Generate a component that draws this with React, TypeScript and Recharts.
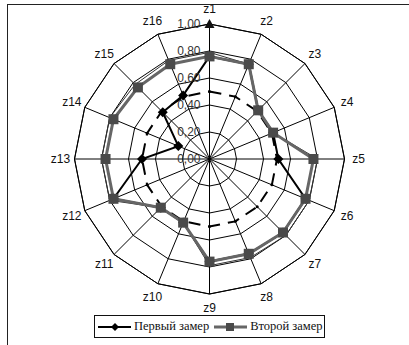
import {
  RadarChart,
  Radar,
  PolarGrid,
  PolarAngleAxis,
  PolarRadiusAxis,
} from 'recharts'

const axes = ['z1', 'z2', 'z3', 'z4', 'z5', 'z6', 'z7', 'z8', 'z9', 'z10', 'z11', 'z12', 'z13', 'z14', 'z15', 'z16']
const first = [0.76, 0.76, 0.51, 0.51, 0.51, 0.77, 0.77, 0.76, 0.76, 0.51, 0.51, 0.77, 0.5, 0.25, 0.49, 0.51]
const second = [0.76, 0.76, 0.51, 0.51, 0.77, 0.77, 0.77, 0.76, 0.76, 0.51, 0.51, 0.77, 0.77, 0.77, 0.75, 0.76]
// thin companion line drawn just outside the second series
const edge = [0.79, 0.76, 0.51, 0.51, 0.8, 0.8, 0.8, 0.79, 0.79, 0.51, 0.51, 0.8, 0.8, 0.8, 0.78, 0.79]
const level = [0.5, 0.5, 0.5, 0.5, 0.5, 0.5, 0.5, 0.5, 0.5, 0.5, 0.5, 0.5, 0.5, 0.5, 0.5, 0.5]
const ticks = [0, 0.2, 0.4, 0.6, 0.8, 1]

const data = axes.map((name, i) => ({
  name,
  first: first[i],
  second: second[i],
  edge: edge[i],
  level: level[i],
}))

const SANS = '"Liberation Sans", Arial, sans-serif'
const SERIF = '"Liberation Serif", "DejaVu Serif", serif'
const GRAY = '#666'
const SQUARE = '#4a4a4a'

const fmt = (v: number) => v.toFixed(2).replace('.', ',')

// eslint-disable-next-line @typescript-eslint/no-explicit-any
function RadiusTick({ x, y, payload }: any) {
  return (
    <g>
      {payload.value === 1 && (
        <polygon points={`${x - 5},${y + 4} ${x + 5},${y + 4} ${x},${y - 5}`} fill="#111" />
      )}
      <text
        x={x - 9}
        y={y}
        textAnchor="end"
        dominantBaseline="central"
        fontSize={12}
        fontFamily={SANS}
        fill="#333"
      >
        {fmt(payload.value)}
      </text>
    </g>
  )
}

// eslint-disable-next-line @typescript-eslint/no-explicit-any
function AngleTick({ x, y, payload }: any) {
  const shift = payload.value === 'z1' ? -1 : 0
  return (
    <text
      x={x}
      y={y + shift}
      textAnchor="middle"
      dominantBaseline="central"
      fontSize={12}
      fontFamily={SANS}
      fill="#111"
    >
      {payload.value}
    </text>
  )
}

// eslint-disable-next-line @typescript-eslint/no-explicit-any
const Diamond = ({ cx, cy, index }: any) => (
  <polygon
    key={`d${index}`}
    points={`${cx},${cy - 5} ${cx + 5},${cy} ${cx},${cy + 5} ${cx - 5},${cy}`}
    fill="#000"
  />
)

// eslint-disable-next-line @typescript-eslint/no-explicit-any
const Square = ({ cx, cy, index }: any) => (
  <rect key={`s${index}`} x={cx - 5} y={cy - 5} width={10} height={10} fill={SQUARE} />
)

// eslint-disable-next-line @typescript-eslint/no-explicit-any
const Dot = ({ cx, cy, index }: any) => (
  <circle key={`o${index}`} cx={cx} cy={cy} r={1.5} fill="#000" />
)

function Legend() {
  return (
    <div
      style={{
        position: 'absolute',
        left: 94,
        top: 315,
        width: 231,
        height: 23,
        border: '1px solid #111',
        display: 'flex',
        alignItems: 'center',
        fontFamily: SERIF,
        fontSize: 12.5,
        color: '#111',
        boxSizing: 'border-box',
      }}
    >
      <svg width={36} height={12} style={{ marginLeft: 2 }}>
        <line x1={1} y1={6} x2={34} y2={6} stroke="#000" strokeWidth={2} />
        <polygon points="18,2 22,6 18,10 14,6" fill="#000" />
      </svg>
      <span style={{ marginLeft: 1 }}>Первый замер</span>
      <svg width={36} height={12} style={{ marginLeft: 4 }}>
        <line x1={1} y1={6} x2={34} y2={6} stroke={GRAY} strokeWidth={3} />
        <rect x={13} y={2} width={8} height={8} fill={SQUARE} />
      </svg>
      <span style={{ marginLeft: 1 }}>Второй замер</span>
    </div>
  )
}

export default function App() {
  return (
    <div
      style={{
        position: 'absolute',
        left: 0,
        top: 0,
        width: 409,
        height: 345,
        background: '#fff',
        overflow: 'hidden',
      }}
    >
      <div
        style={{
          position: 'absolute',
          left: 7,
          top: 4,
          width: 410,
          height: 350,
          borderTop: '1px solid #222',
          borderLeft: '1px solid #222',
        }}
      />
      <div style={{ position: 'absolute', left: 0, top: 0 }}>
        <RadarChart
          width={409}
          height={345}
          data={data}
          cx={209.5}
          cy={159}
          outerRadius={135}
          margin={{ top: 0, right: 0, bottom: 0, left: 0 }}
        >
          <PolarGrid gridType="polygon" stroke="#000" strokeWidth={1} />
          <PolarAngleAxis
            dataKey="name"
            tick={<AngleTick />}
            tickLine={false}
            tickSize={14}
            axisLine={{ stroke: '#000' }}
          />
          <PolarRadiusAxis
            radiusAxisId="east"
            angle={0}
            domain={[0, 1]}
            ticks={ticks}
            tick={false}
            axisLine={{ stroke: '#777', strokeWidth: 2 }}
          />
          <PolarRadiusAxis
            radiusAxisId="west"
            angle={180}
            domain={[0, 1]}
            ticks={ticks}
            tick={false}
            axisLine={{ stroke: '#777', strokeWidth: 2 }}
          />
          <PolarRadiusAxis
            angle={90}
            domain={[0, 1]}
            ticks={ticks}
            tickCount={6}
            tick={<RadiusTick />}
            tickLine={false}
            axisLine={{ stroke: '#000', strokeWidth: 1 }}
          />
          <Radar
            dataKey="level"
            stroke="#000"
            strokeWidth={2}
            strokeDasharray="12 8"
            fill="none"
            fillOpacity={0}
            dot={Dot}
            isAnimationActive={false}
          />
          <Radar
            dataKey="edge"
            stroke="#333"
            strokeWidth={1}
            fill="none"
            fillOpacity={0}
            dot={false}
            isAnimationActive={false}
          />
          <Radar
            dataKey="first"
            stroke="#000"
            strokeWidth={2}
            fill="none"
            fillOpacity={0}
            dot={Diamond}
            isAnimationActive={false}
          />
          <Radar
            dataKey="second"
            stroke={GRAY}
            strokeWidth={3}
            fill="none"
            fillOpacity={0}
            dot={Square}
            isAnimationActive={false}
          />
        </RadarChart>
      </div>
      <Legend />
    </div>
  )
}
